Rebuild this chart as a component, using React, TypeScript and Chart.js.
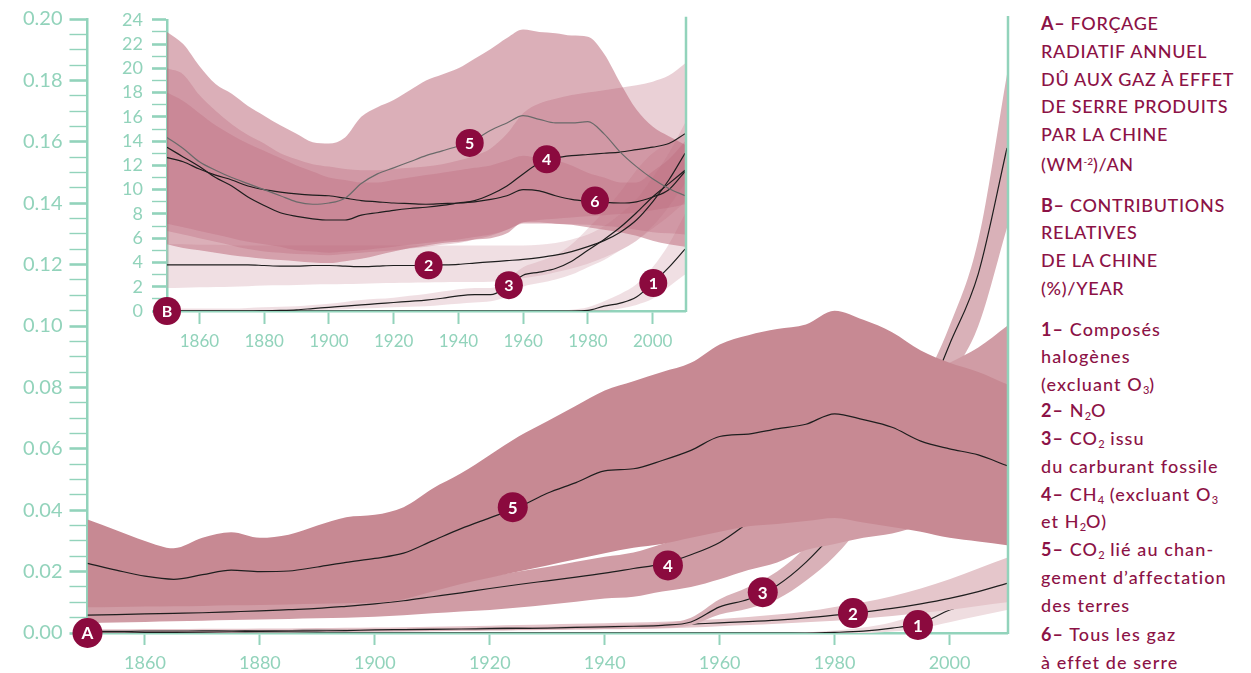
import React, { useEffect, useRef } from 'react';
import { Chart, registerables } from 'chart.js';

Chart.register(...registerables);

// ---------- DATA ----------
const YEARS = [1850,1855,1860,1865,1870,1875,1880,1885,1890,1895,1900,1905,1910,1915,1920,1925,1930,1935,1940,1945,1950,1955,1960,1965,1970,1975,1980,1985,1990,1995,2000,2005,2010];
const X_TICK_YEARS = [1860,1880,1900,1920,1940,1960,1980,2000];
const MAIN_Y_LABELS = ['0.00','0.02','0.04','0.06','0.08','0.10','0.12','0.14','0.16','0.18','0.20'];
const INSET_Y_LABELS = ['0','2','4','6','8','10','12','14','16','18','20','22','24'];

// Panel A: annual radiative forcing (W m-2)
const mainLine5 = [0.0227,0.0205,0.0185,0.0175,0.019,0.0205,0.020,0.0202,0.0215,0.023,0.0243,0.026,0.030,0.034,0.0375,0.041,0.0455,0.049,0.0528,0.0535,0.0562,0.0595,0.064,0.0648,0.0665,0.068,0.0714,0.0695,0.067,0.0625,0.060,0.058,0.0545];
const mainUpper5 = [0.037,0.0335,0.030,0.0276,0.031,0.0328,0.031,0.032,0.035,0.0377,0.0385,0.041,0.047,0.052,0.058,0.064,0.069,0.074,0.079,0.082,0.085,0.088,0.094,0.097,0.099,0.1005,0.105,0.102,0.098,0.092,0.088,0.085,0.081];
const mainLower5 = [0.0084,0.0085,0.0086,0.0087,0.0088,0.009,0.0091,0.0093,0.0095,0.0097,0.0099,0.011,0.0135,0.016,0.018,0.020,0.022,0.024,0.026,0.0278,0.029,0.031,0.033,0.0348,0.0355,0.0365,0.0375,0.036,0.0345,0.033,0.031,0.0298,0.0286];
const mainLine4 = [0.0058,0.006,0.0062,0.0064,0.0066,0.0069,0.0072,0.0076,0.008,0.0087,0.0095,0.0105,0.0118,0.0131,0.0145,0.0158,0.017,0.0182,0.0195,0.021,0.0225,0.0255,0.0295,0.036,0.043,0.048,0.053,0.058,0.062,0.066,0.07,0.073,0.076];
const mainUpper4 = [0.009,0.0092,0.0094,0.0096,0.0098,0.010,0.0103,0.0107,0.011,0.0115,0.012,0.0135,0.015,0.0167,0.0183,0.020,0.0215,0.0232,0.0248,0.0262,0.029,0.032,0.036,0.042,0.048,0.055,0.062,0.07,0.077,0.083,0.088,0.093,0.1];
const mainLower4 = [0.0032,0.0034,0.0036,0.0038,0.004,0.0042,0.0044,0.0046,0.0048,0.005,0.0053,0.0058,0.0064,0.007,0.0075,0.0083,0.0092,0.0102,0.0112,0.0118,0.0135,0.015,0.0175,0.0205,0.023,0.027,0.029,0.031,0.0324,0.035,0.038,0.04,0.042];
const mainLine3 = [0,0,0.0001,0.0002,0.0003,0.0004,0.0005,0.0006,0.0007,0.0008,0.001,0.0011,0.0012,0.0013,0.0014,0.0015,0.0016,0.0018,0.002,0.0022,0.0025,0.0036,0.0085,0.011,0.0155,0.023,0.033,0.045,0.058,0.072,0.094,0.117,0.158];
const mainUpper3 = [0.0003,0.0003,0.0004,0.0005,0.0006,0.0007,0.0008,0.0009,0.001,0.0011,0.0013,0.0014,0.0015,0.0016,0.0017,0.0018,0.002,0.0022,0.0025,0.0028,0.0032,0.005,0.011,0.015,0.02,0.028,0.039,0.051,0.065,0.08,0.1,0.128,0.182];
const mainLower3 = [0,0,0,0,0,0.0001,0.0002,0.0002,0.0003,0.0004,0.0005,0.0006,0.0007,0.0008,0.0009,0.001,0.0011,0.0012,0.0013,0.0014,0.0016,0.0025,0.006,0.008,0.011,0.017,0.025,0.036,0.05,0.062,0.082,0.1,0.132];
const mainLine2 = [0.0005,0.0005,0.0006,0.0006,0.0007,0.0007,0.0008,0.0008,0.0009,0.0009,0.001,0.0011,0.0012,0.0013,0.0015,0.0016,0.0017,0.0018,0.002,0.0022,0.0025,0.0029,0.0033,0.0037,0.0042,0.0049,0.0058,0.0068,0.008,0.0095,0.0113,0.0135,0.0162];
const mainUpper2 = [0.0012,0.0012,0.0013,0.0013,0.0014,0.0014,0.0015,0.0015,0.0016,0.0017,0.0018,0.0019,0.002,0.0022,0.0024,0.0026,0.0028,0.003,0.0032,0.0034,0.0037,0.0041,0.0046,0.0052,0.006,0.007,0.0085,0.01,0.012,0.0145,0.0175,0.021,0.0245];
const mainLower2 = [0,0,0.0001,0.0001,0.0002,0.0002,0.0003,0.0003,0.0004,0.0004,0.0005,0.0005,0.0006,0.0007,0.0008,0.0009,0.001,0.0011,0.0012,0.0013,0.0015,0.0018,0.0022,0.0026,0.003,0.0035,0.004,0.0047,0.0055,0.0065,0.0075,0.0088,0.01];
const mainLine1 = [0,0,0,0,0,0,0,0,0,0,0,0,0,0,0,0,0,0,0,0,0,0,0,0,0,0,0.0002,0.0006,0.0016,0.0032,0.0075,0.0105,0.013];
const mainUpper1 = [0,0,0,0,0,0,0,0,0,0,0,0,0,0,0,0,0,0,0,0,0,0,0,0,0,0.0002,0.0008,0.0018,0.0035,0.0065,0.011,0.016,0.021];
const mainLower1 = [0,0,0,0,0,0,0,0,0,0,0,0,0,0,0,0,0,0,0,0,0,0,0,0,0,0,0,0,0.0005,0.0015,0.0035,0.0055,0.0075];

// Panel B: relative contributions of China (%)
const insetLine5 = [14.3,13.4,12.3,11.6,11.0,10.5,10.0,9.5,9.0,8.8,8.9,9.3,10.5,11.3,11.8,12.3,12.8,13.2,13.6,14.1,14.9,15.5,16.1,15.8,15.5,15.5,15.6,14.6,13.1,11.9,10.9,10.1,9.5];
const insetUpper5 = [23.0,22.0,20.2,18.7,17.9,16.9,16.1,15.3,14.6,13.9,13.8,14.3,16.0,16.8,17.4,18.2,19.0,19.5,20.0,20.8,21.6,22.5,23.2,23.0,22.9,22.7,22.6,21.2,18.8,16.6,15.2,14.4,13.7];
const insetLower5 = [5.5,5.2,5.0,4.8,4.6,4.45,4.3,4.2,4.1,4.0,3.95,4.1,4.3,4.6,4.9,5.2,5.4,5.6,5.7,5.9,6.0,6.4,7.3,7.3,7.2,7.1,6.9,6.7,6.5,6.2,5.8,5.5,5.3];
const insetLine4 = [13.5,12.7,11.9,11.0,10.3,9.4,8.7,8.1,7.8,7.6,7.5,7.5,7.9,8.1,8.3,8.45,8.55,8.7,8.9,9.1,9.6,10.3,11.3,12.2,12.6,12.8,12.9,13.0,13.1,13.3,13.5,13.8,14.6];
const insetUpper4 = [20.0,19.5,17.8,16.5,15.4,14.5,13.8,13.0,12.5,12.1,11.9,11.7,11.6,11.6,11.7,11.8,11.9,12.1,12.4,12.8,13.4,14.6,16.3,17.1,17.5,17.8,18.0,18.2,18.4,18.6,18.9,19.4,20.4];
const insetLower4 = [6.6,6.3,6.0,5.7,5.4,5.1,4.9,4.8,4.7,4.65,4.6,4.7,4.8,4.9,5.0,5.15,5.3,5.45,5.6,5.9,6.2,6.7,7.3,7.5,7.6,7.7,7.8,7.9,8.0,8.1,8.3,8.5,8.8];
const insetLine6 = [12.65,12.3,11.7,11.2,10.8,10.3,10.0,9.8,9.65,9.55,9.5,9.3,9.1,9.0,8.9,8.85,8.8,8.85,8.9,9.0,9.2,9.5,10.0,9.9,9.5,9.2,9.05,8.95,8.9,9.0,9.4,10.0,11.5];
const insetUpper6 = [18.0,17.3,16.3,15.3,14.5,13.8,13.2,12.6,12.0,11.5,11.0,10.8,10.6,10.6,10.8,11.0,11.2,11.4,11.6,11.8,12.0,12.4,12.8,12.6,12.4,12.0,11.4,11.0,10.6,10.6,11.5,12.5,14.0];
const insetLower6 = [7.2,6.9,6.6,6.3,6.0,5.7,5.5,5.3,5.0,4.9,4.8,4.9,5.0,5.15,5.3,5.45,5.6,5.75,5.9,6.1,6.3,6.7,7.2,7.2,7.2,7.15,7.1,7.0,6.9,6.7,6.5,6.4,6.3];
const insetLine2 = [3.8,3.8,3.8,3.8,3.8,3.8,3.75,3.7,3.7,3.75,3.75,3.7,3.65,3.7,3.75,3.75,3.77,3.8,3.85,3.95,4.05,4.15,4.25,4.4,4.6,4.9,5.3,5.8,6.5,7.5,9.0,10.8,13.0];
const insetUpper2 = [5.5,5.5,5.45,5.45,5.4,5.4,5.4,5.4,5.4,5.4,5.4,5.4,5.4,5.4,5.4,5.4,5.4,5.4,5.4,5.4,5.4,5.4,5.4,5.45,5.6,5.9,6.3,7.0,8.0,9.2,11.0,13.0,15.5];
const insetLower2 = [1.9,1.92,1.95,1.98,2.0,2.05,2.1,2.12,2.15,2.18,2.2,2.22,2.25,2.28,2.3,2.32,2.34,2.36,2.38,2.4,2.42,2.5,2.7,2.9,3.2,3.5,3.9,4.4,5.0,5.8,7.0,8.6,10.5];
const insetLine3 = [0,0,0,0,0,0,0.02,0.05,0.1,0.2,0.3,0.4,0.5,0.6,0.7,0.8,0.9,1.05,1.25,1.35,1.35,2.0,2.95,3.2,3.5,4.1,5.0,5.9,6.9,8.1,9.4,10.5,11.6];
const insetUpper3 = [0.2,0.2,0.2,0.2,0.2,0.25,0.3,0.35,0.4,0.5,0.6,0.75,0.9,1.0,1.1,1.25,1.4,1.6,1.8,1.9,1.9,2.6,3.6,4.1,4.6,5.5,6.8,8.2,9.8,11.6,13.0,13.8,14.5];
const insetLower3 = [0,0,0,0,0,0,0,0,0,0.05,0.1,0.15,0.2,0.25,0.3,0.35,0.4,0.5,0.6,0.7,0.8,1.2,2.0,2.3,2.6,3.0,3.6,4.2,5.0,5.8,6.8,7.8,9.0];
const insetLine1 = [0,0,0,0,0,0,0,0,0,0,0,0,0,0,0,0,0,0,0,0,0,0,0,0,0,0,0.05,0.4,0.65,1.15,2.3,3.6,5.1];
const insetUpper1 = [0,0,0,0,0,0,0,0,0,0,0,0,0,0,0,0,0,0,0,0,0,0,0,0,0,0.1,0.3,0.8,1.4,2.2,3.6,5.5,8.0];
const insetLower1 = [0,0,0,0,0,0,0,0,0,0,0,0,0,0,0,0,0,0,0,0,0,0,0,0,0,0,0,0,0.2,0.5,1.0,2.0,3.0];

// Numbered markers
const mainMarkerLabels = ['A','1','2','3','4','5'];
const mainMarkerYears = [1850,1994.5,1983.2,1967.5,1951,1924];
const mainMarkerValues = [0,0.0026,0.0065,0.0133,0.022,0.041];
const insetMarkerLabels = ['B','1','2','3','4','5','6'];
const insetMarkerYears = [1850,2000.2,1930.8,1955.6,1967.3,1943.5,1982.2];
const insetMarkerValues = [0,2.3,3.77,2.13,12.5,13.85,9.1];

// ---------- STYLE ----------
const MINT = '#92d3bb';
const MARK = '#8b0a3e';
const TEXT = '#8c1246';
const FONT = 'Lato, "Open Sans", sans-serif';
const BLACK = '#1e1e1e';

const pts = (vals: number[]) => vals.map((v, i) => ({ x: YEARS[i], y: v }));

type Layer = { kind: 'band'; lower: number[]; upper: number[]; color: string } | { kind: 'line'; data: number[]; color: string; width?: number };

function buildDatasets(layers: Layer[]) {
  const ds: any[] = [];
  layers.forEach((l) => {
    if (l.kind === 'band') {
      const li = ds.length;
      ds.push({ data: pts(l.lower), borderWidth: 0, pointRadius: 0, fill: false, cubicInterpolationMode: 'monotone', backgroundColor: 'transparent', borderColor: 'transparent' });
      ds.push({ data: pts(l.upper), borderWidth: 0, pointRadius: 0, fill: li, backgroundColor: l.color, borderColor: 'transparent', cubicInterpolationMode: 'monotone' });
    } else {
      ds.push({ data: pts(l.data), borderWidth: l.width ?? 1.2, borderColor: l.color, pointRadius: 0, fill: false, cubicInterpolationMode: 'monotone' });
    }
  });
  const n = ds.length;
  ds.forEach((d, i) => { d.order = n - i; });
  return ds;
}

function overlayPlugin(labels: string[], xs: number[], ys: number[], r: number, fontSize: number) {
  return {
    id: 'overlay',
    afterDraw(chart: any) {
      const ctx = chart.ctx;
      const a = chart.chartArea;
      ctx.save();
      ctx.strokeStyle = MINT;
      ctx.lineWidth = 2.5;
      ctx.beginPath();
      ctx.moveTo(a.right + 1, a.top - 3);
      ctx.lineTo(a.right + 1, a.bottom + 1);
      ctx.stroke();
      const sx = chart.scales.x, sy = chart.scales.y;
      labels.forEach((lab, i) => {
        const px = sx.getPixelForValue(xs[i]);
        const py = sy.getPixelForValue(ys[i]);
        ctx.beginPath();
        ctx.arc(px, py, r, 0, Math.PI * 2);
        ctx.fillStyle = MARK;
        ctx.fill();
        ctx.fillStyle = '#ffffff';
        ctx.font = `700 ${fontSize}px ${FONT}`;
        ctx.textAlign = 'center';
        ctx.textBaseline = 'middle';
        ctx.fillText(lab, px, py + 1);
      });
      ctx.restore();
    },
  };
}

function makeOptions(cfg: { yMax: number; yStep: number; yLabels: string[]; labelEvery: number; yWidth: number; xHeight: number; padding: any; yTickLen: number; yPad: number; xTickLen: number; xPad: number; fontSize: number; yFontSize: number }) {
  return {
    responsive: false,
    animation: false,
    devicePixelRatio: 1,
    layout: { padding: cfg.padding },
    plugins: { legend: { display: false }, tooltip: { enabled: false } },
    elements: { line: { tension: 0.4 } },
    scales: {
      x: {
        type: 'linear',
        min: 1850,
        max: 2010,
        z: 1,
        afterBuildTicks: (s: any) => { s.ticks = X_TICK_YEARS.map((v) => ({ value: v })); },
        afterFit: (s: any) => { s.height = cfg.xHeight; },
        border: { display: true, color: MINT, width: 2.5 },
        grid: { drawOnChartArea: false, drawTicks: true, tickLength: cfg.xTickLen, tickWidth: 2, tickColor: MINT, color: MINT },
        ticks: { color: MINT, font: { family: FONT, size: cfg.fontSize }, padding: cfg.xPad, autoSkip: false, maxRotation: 0, callback: (v: any) => String(v) },
      },
      y: {
        type: 'linear',
        min: 0,
        max: cfg.yMax,
        z: 1,
        afterFit: (s: any) => { s.width = cfg.yWidth; },
        border: { display: true, color: MINT, width: 2.5 },
        grid: {
          drawOnChartArea: false,
          drawTicks: true,
          tickLength: cfg.yTickLen,
          tickColor: MINT,
          color: MINT,
          tickWidth: (c: any) => (c.index % cfg.labelEvery === 0 ? 2.6 : 1.4),
        },
        ticks: {
          stepSize: cfg.yStep,
          autoSkip: false,
          color: MINT,
          padding: cfg.yPad,
          font: { family: FONT, size: cfg.yFontSize },
          callback: (_v: any, idx: number) => (idx % cfg.labelEvery === 0 ? cfg.yLabels[idx / cfg.labelEvery] : ''),
        },
      },
    },
  } as any;
}

function MainChart() {
  const ref = useRef<HTMLCanvasElement>(null);
  useEffect(() => {
    const layers: Layer[] = [
      { kind: 'band', lower: mainLower1, upper: mainUpper1, color: '#efdde0' },
      { kind: 'line', data: mainLine1, color: BLACK },
      { kind: 'band', lower: mainLower2, upper: mainUpper2, color: '#e5c6cb' },
      { kind: 'line', data: mainLine2, color: BLACK },
      { kind: 'band', lower: mainLower3, upper: mainUpper3, color: '#d9b1b8' },
      { kind: 'line', data: mainLine3, color: BLACK },
      { kind: 'band', lower: mainLower4, upper: mainUpper4, color: '#d09ca5' },
      { kind: 'line', data: mainLine4, color: BLACK },
      { kind: 'band', lower: mainLower5, upper: mainUpper5, color: '#c78993' },
      { kind: 'line', data: mainLine5, color: BLACK },
    ];
    const chart = new Chart(ref.current as HTMLCanvasElement, {
      type: 'line',
      data: { datasets: buildDatasets(layers) },
      options: makeOptions({ yMax: 0.2, yStep: 0.005, yLabels: MAIN_Y_LABELS, labelEvery: 4, yWidth: 87.5, xHeight: 40, padding: { top: 17, right: 23, left: 0, bottom: 0 }, yTickLen: 18, yPad: 7, xTickLen: 12, xPad: 7, fontSize: 18, yFontSize: 20 }),
      plugins: [overlayPlugin(mainMarkerLabels, mainMarkerYears, mainMarkerValues, 15, 17)],
    });
    return () => chart.destroy();
  }, []);
  return <canvas ref={ref} width={1030} height={673} style={{ position: 'absolute', left: 0, top: 0 }} />;
}

function InsetChart() {
  const ref = useRef<HTMLCanvasElement>(null);
  useEffect(() => {
    const layers: Layer[] = [
      { kind: 'band', lower: insetLower2, upper: insetUpper2, color: 'rgba(205,150,162,0.3)' },
      { kind: 'band', lower: insetLower3, upper: insetUpper3, color: 'rgba(205,150,162,0.3)' },
      { kind: 'band', lower: insetLower1, upper: insetUpper1, color: 'rgba(205,150,162,0.3)' },
      { kind: 'band', lower: insetLower5, upper: insetUpper5, color: 'rgba(190,110,125,0.55)' },
      { kind: 'band', lower: insetLower4, upper: insetUpper4, color: 'rgba(185,100,118,0.3)' },
      { kind: 'band', lower: insetLower6, upper: insetUpper6, color: 'rgba(185,100,118,0.3)' },
      { kind: 'line', data: insetLine1, color: BLACK },
      { kind: 'line', data: insetLine2, color: BLACK },
      { kind: 'line', data: insetLine3, color: BLACK },
      { kind: 'line', data: insetLine6, color: BLACK },
      { kind: 'line', data: insetLine4, color: BLACK },
      { kind: 'line', data: insetLine5, color: '#6a6a6a' },
    ];
    const chart = new Chart(ref.current as HTMLCanvasElement, {
      type: 'line',
      data: { datasets: buildDatasets(layers) },
      options: makeOptions({ yMax: 24, yStep: 1, yLabels: INSET_Y_LABELS, labelEvery: 2, yWidth: 72, xHeight: 44, padding: { top: 18, right: 15, left: 0, bottom: 0 }, yTickLen: 15, yPad: 9, xTickLen: 13, xPad: 7, fontSize: 17, yFontSize: 18 }),
      plugins: [overlayPlugin(insetMarkerLabels, insetMarkerYears, insetMarkerValues, 14, 16)],
    });
    return () => chart.destroy();
  }, []);
  return <canvas ref={ref} width={605} height={355} style={{ position: 'absolute', left: 95, top: 0 }} />;
}

const Sub = ({ c }: { c: string }) => <span style={{ fontSize: 11, verticalAlign: '-3px', letterSpacing: 0 }}>{c}</span>;
const Sup = ({ c }: { c: string }) => <span style={{ fontSize: 10, verticalAlign: '6px', letterSpacing: 0 }}>{c}</span>;
const B = ({ c }: { c: string }) => <span style={{ fontWeight: 700 }}>{c}</span>;

const LEGEND_Y = [23, 51, 79, 106, 134, 161, 205, 232, 260, 288, 329, 356, 384, 410, 438, 466, 494, 521, 549, 577, 605, 634, 662];

function Legend() {
  const lines: React.ReactNode[] = [
    <><B c="A–" /> FORÇAGE</>,
    <>RADIATIF ANNUEL</>,
    <>DÛ AUX GAZ À EFFET</>,
    <>DE SERRE PRODUITS</>,
    <>PAR LA CHINE</>,
    <>(WM<Sup c="-2" />)/AN</>,
    <><B c="B–" /> CONTRIBUTIONS</>,
    <>RELATIVES</>,
    <>DE LA CHINE</>,
    <>(%)/YEAR</>,
    <><B c="1–" /> Composés</>,
    <>halogènes</>,
    <>(excluant O<Sub c="3" />)</>,
    <><B c="2–" /> N<Sub c="2" />O</>,
    <><B c="3–" /> CO<Sub c="2" /> issu</>,
    <>du carburant fossile</>,
    <><B c="4–" /> CH<Sub c="4" /> (excluant O<Sub c="3" /></>,
    <>et H<Sub c="2" />O)</>,
    <><B c="5–" /> CO<Sub c="2" /> lié au chan-</>,
    <>gement d’affectation</>,
    <>des terres</>,
    <><B c="6–" /> Tous les gaz</>,
    <>à effet de serre</>,
  ];
  return (
    <div style={{ position: 'absolute', left: 1041, top: 0, width: 210, height: 673, color: TEXT, fontFamily: FONT, fontSize: 18, fontWeight: 500 }}>
      {lines.map((l, i) => (
        <div key={i} style={{ position: 'absolute', left: 0, top: LEGEND_Y[i] - 14, height: 28, lineHeight: '28px', whiteSpace: 'nowrap', letterSpacing: i < 10 ? '0.7px' : '1.1px' }}>{l}</div>
      ))}
    </div>
  );
}

export default function App() {
  useEffect(() => { document.body.style.margin = '0'; }, []);
  return (
    <div style={{ position: 'relative', width: 1251, height: 673, overflow: 'hidden', background: '#fff' }}>
      <MainChart />
      <InsetChart />
      <Legend />
    </div>
  );
}
